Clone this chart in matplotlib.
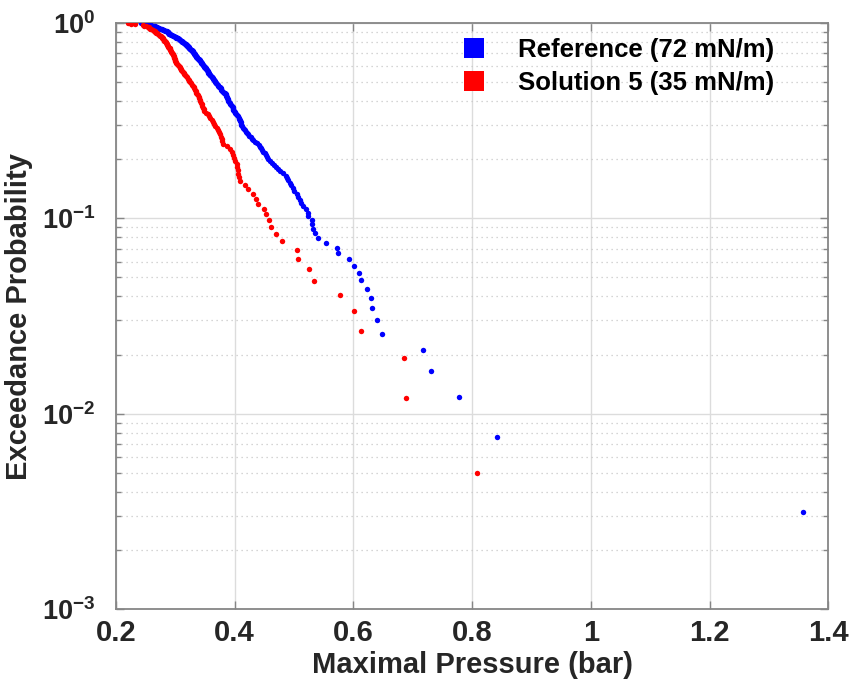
import numpy as np
import matplotlib
matplotlib.use("Agg")
import matplotlib.pyplot as plt
from matplotlib.lines import Line2D
from matplotlib.ticker import FixedLocator, NullFormatter

# ---------------- data (maximal pressure samples, bar) ----------------
reference_label = "Reference (72 mN/m)"
solution_label = "Solution 5 (35 mN/m)"

reference_pressure = [
    1.357, 0.8425, 0.778, 0.7302, 0.7168, 0.6487, 0.6398, 0.6308, 0.6292, 0.6234,
    0.6123, 0.6089, 0.6010, 0.5926, 0.5746, 0.5719, 0.5538, 0.5409, 0.5350, 0.5324,
    0.5307, 0.5294, 0.5243, 0.5227, 0.5206, 0.5142, 0.5109, 0.5092, 0.5066, 0.5041,
    0.4999, 0.4974, 0.4948, 0.4932, 0.4906, 0.4881, 0.4856, 0.4814, 0.4763, 0.4730,
    0.4696, 0.4654, 0.4620, 0.4595, 0.4569, 0.4549, 0.4527, 0.4502, 0.4477, 0.4460,
    0.4443, 0.4426, 0.4409, 0.4376, 0.4342, 0.4308, 0.4283, 0.4266, 0.4249, 0.4229,
    0.4212, 0.4190, 0.4173, 0.4157, 0.4140, 0.4123, 0.4114, 0.4106, 0.4098, 0.4089,
    0.4081, 0.4072, 0.4064, 0.4056, 0.4039, 0.4027, 0.4013, 0.4002, 0.3988, 0.3971,
    0.3971, 0.3966, 0.3963, 0.3946, 0.3938, 0.3926, 0.3915, 0.3904, 0.3895, 0.3887,
    0.3879, 0.3870, 0.3862, 0.3853, 0.3850, 0.3845, 0.3836, 0.3820, 0.3803, 0.3791,
    0.3777, 0.3769, 0.3761, 0.3749, 0.3735, 0.3719, 0.3710, 0.3702, 0.3693, 0.3685,
    0.3676, 0.3668, 0.3651, 0.3643, 0.3634, 0.3626, 0.3617, 0.3609, 0.3601, 0.3589,
    0.3580, 0.3575, 0.3567, 0.3558, 0.3550, 0.3542, 0.3533, 0.3525, 0.3516, 0.3508,
    0.3499, 0.3491, 0.3483, 0.3478, 0.3474, 0.3466, 0.3454, 0.3449, 0.3440, 0.3432,
    0.3424, 0.3415, 0.3407, 0.3398, 0.3390, 0.3381, 0.3373, 0.3365, 0.3356, 0.3348,
    0.3343, 0.3336, 0.3331, 0.3323, 0.3314, 0.3309, 0.3304, 0.3297, 0.3289, 0.3281,
    0.3272, 0.3264, 0.3255, 0.3247, 0.3238, 0.3230, 0.3222, 0.3213, 0.3205, 0.3196,
    0.3188, 0.3179, 0.3171, 0.3162, 0.3154, 0.3146, 0.3129, 0.3112, 0.3104, 0.3095,
    0.3083, 0.3073, 0.3061, 0.3053, 0.3045, 0.3028, 0.3019, 0.3011, 0.2994, 0.2977,
    0.2960, 0.2943, 0.2927, 0.2910, 0.2901, 0.2893, 0.2888, 0.2881, 0.2876, 0.2868,
    0.2851, 0.2834, 0.2826, 0.2809, 0.2792, 0.2775, 0.2758, 0.2741, 0.2724, 0.2708,
    0.2691, 0.2674, 0.2657, 0.2632, 0.2607, 0.2590, 0.2564, 0.2539, 0.2514, 0.2489,
    0.2455, 0.2416,
]

solution_pressure = [
    0.8077, 0.6891, 0.6853, 0.6123, 0.6005, 0.5774, 0.5331, 0.5247, 0.5072, 0.5055,
    0.4792, 0.4701, 0.4612, 0.4573, 0.4522, 0.4500, 0.4388, 0.4359, 0.4313, 0.4229,
    0.4174, 0.4089, 0.4080, 0.4061, 0.4050, 0.4045, 0.4034, 0.4010, 0.3980, 0.3976,
    0.3955, 0.3921, 0.3862, 0.3811, 0.3794, 0.3778, 0.3761, 0.3747, 0.3732, 0.3719,
    0.3702, 0.3675, 0.3651, 0.3631, 0.3609, 0.3584, 0.3564, 0.3555, 0.3516, 0.3488,
    0.3476, 0.3466, 0.3454, 0.3444, 0.3432, 0.3420, 0.3412, 0.3404, 0.3393, 0.3385,
    0.3373, 0.3355, 0.3343, 0.3331, 0.3322, 0.3314, 0.3297, 0.3281, 0.3264, 0.3247,
    0.3235, 0.3222, 0.3208, 0.3196, 0.3183, 0.3168, 0.3154, 0.3146, 0.3129, 0.3112,
    0.3095, 0.3090, 0.3083, 0.3078, 0.3061, 0.3045, 0.3028, 0.3016, 0.3008, 0.2999,
    0.2991, 0.2986, 0.2981, 0.2976, 0.2969, 0.2964, 0.2955, 0.2947, 0.2939, 0.2930,
    0.2923, 0.2917, 0.2910, 0.2903, 0.2893, 0.2881, 0.2873, 0.2864, 0.2859, 0.2853,
    0.2846, 0.2837, 0.2826, 0.2814, 0.2804, 0.2792, 0.2784, 0.2776, 0.2767, 0.2758,
    0.2741, 0.2725, 0.2708, 0.2691, 0.2674, 0.2660, 0.2649, 0.2637, 0.2623, 0.2598,
    0.2581, 0.2564, 0.2548, 0.2531, 0.2505, 0.2480, 0.2460, 0.2320, 0.2253, 0.2194,
]

x_ticks = [0.2, 0.4, 0.6, 0.8, 1.0, 1.2, 1.4]
x_tick_labels = ["0.2", "0.4", "0.6", "0.8", "1", "1.2", "1.4"]
y_ticks = [1e-3, 1e-2, 1e-1, 1e0]
y_tick_labels = [r"$\mathbf{10^{-3}}$", r"$\mathbf{10^{-2}}$",
                 r"$\mathbf{10^{-1}}$", r"$\mathbf{10^{0}}$"]


def exceedance(samples):
    """Empirical exceedance probability (median-rank plotting position)."""
    s = np.sort(np.asarray(samples))[::-1]
    n = len(s)
    rank = np.arange(1, n + 1)
    return s, (rank - 0.3) / (n + 0.4)


# ---------------- style ----------------
plt.rcParams["font.family"] = ["Liberation Sans", "DejaVu Sans"]
plt.rcParams["font.weight"] = "bold"
plt.rcParams["mathtext.fontset"] = "custom"
plt.rcParams["mathtext.rm"] = "Liberation Sans:bold"
plt.rcParams["mathtext.bf"] = "Liberation Sans:bold"
plt.rcParams["mathtext.it"] = "Liberation Sans:bold"

fig = plt.figure(figsize=(8.63, 6.95), dpi=100)
ax = fig.add_axes([116 / 863, 1 - 609.3 / 695, (828.3 - 116) / 863, (609.3 - 22.7) / 695])

bx, by = exceedance(reference_pressure)
rx, ry = exceedance(solution_pressure)

ax.plot(bx, by, linestyle="none", marker="o", markersize=3.9,
        color=(0, 0, 1), markeredgewidth=0, zorder=3)
ax.plot(rx, ry, linestyle="none", marker="o", markersize=3.9,
        color=(1, 0, 0), markeredgewidth=0, zorder=3)

ax.set_yscale("log")
ax.set_xlim(0.2, 1.4)
ax.set_ylim(1e-3, 1)

ax.set_xticks(x_ticks)
ax.set_xticklabels(x_tick_labels)
ax.set_yticks(y_ticks)
ax.set_yticklabels(y_tick_labels)
minor = [m * 10.0 ** e for e in (-3, -2, -1) for m in range(2, 10)]
ax.yaxis.set_minor_locator(FixedLocator(minor))
ax.yaxis.set_minor_formatter(NullFormatter())
ax.xaxis.set_minor_locator(FixedLocator([]))

ax.grid(True, which="major", axis="both", color="#dcdcdc", linewidth=1.0, linestyle="-")
ax.grid(True, which="minor", axis="y", color="#c8c8c8", linewidth=0.9,
        linestyle=(0, (1, 3)))
ax.set_axisbelow(True)

for sp in ax.spines.values():
    sp.set_color("#868686")
    sp.set_linewidth(1.3)

ax.tick_params(which="both", direction="in", top=True, right=True,
               color="#868686", width=1.0)
ax.tick_params(which="major", length=6, labelcolor="#262626")
ax.tick_params(axis="x", which="major", pad=7, labelsize=21)
ax.tick_params(axis="y", which="major", pad=15, labelsize=19.5)
ax.tick_params(which="minor", length=3.5)

ax.set_xlabel("Maximal Pressure (bar)", fontsize=21, fontweight="bold",
              color="#262626")
ax.set_ylabel("Exceedance Probability", fontsize=21, fontweight="bold",
              color="#262626")
ax.xaxis.set_label_coords(0.5, -0.071)
ax.yaxis.set_label_coords(-0.116, 0.5)

handles = [
    Line2D([], [], linestyle="none", marker="s", markersize=14,
           color=(0, 0, 1), markeredgewidth=0),
    Line2D([], [], linestyle="none", marker="s", markersize=14,
           color=(1, 0, 0), markeredgewidth=0),
]
leg = ax.legend(handles, [reference_label, solution_label], loc="upper left",
                bbox_to_anchor=(0.449, 1.004), frameon=False,
                prop={"size": 18.5, "weight": "bold"}, handlelength=1.6,
                handletextpad=0.9, labelspacing=0.35, borderpad=0.2)
for t in leg.get_texts():
    t.set_color("black")

fig.savefig("out.png", dpi=100)
